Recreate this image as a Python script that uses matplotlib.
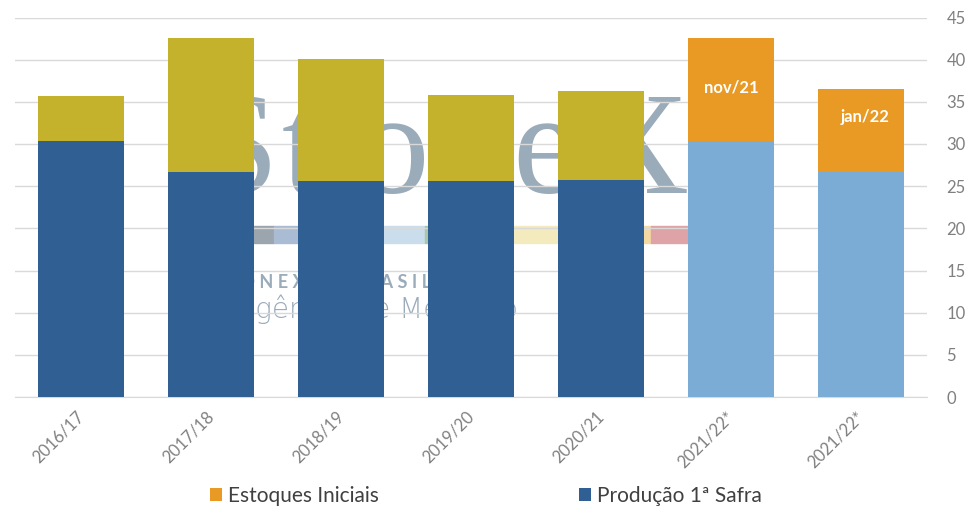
import matplotlib
matplotlib.use("Agg")
import matplotlib.pyplot as plt
from matplotlib.patches import Patch, Rectangle
from matplotlib.transforms import ScaledTranslation

# ---- data ----
categories = ["2016/17", "2017/18", "2018/19", "2019/20", "2020/21", "2021/22*", "2021/22*"]
producao = [30.4, 26.7, 25.6, 25.6, 25.7, 30.3, 26.7]
estoques = [5.3, 15.9, 14.5, 10.2, 10.6, 12.3, 9.8]
bar_notes = ["", "", "", "", "", "nov/21", "jan/22"]
y_ticks = [0, 5, 10, 15, 20, 25, 30, 35, 40, 45]

plt.rcParams['font.family'] = ['Lato', 'DejaVu Sans']

DARK_BLUE = "#2F5F93"
LIGHT_BLUE = "#7AACD5"
OLIVE = "#C4B22D"
ORANGE = "#E89A24"
projected = [False, False, False, False, False, True, True]

fig = plt.figure(figsize=(9.75, 5.27), dpi=100)
fig.patch.set_facecolor("white")
ax = fig.add_axes([15/975, 1-397/527, (927-15)/975, (397-17.5)/527])

x = list(range(len(categories)))
prod_colors = [LIGHT_BLUE if p else DARK_BLUE for p in projected]
est_colors = [ORANGE if p else OLIVE for p in projected]

ax.bar(x, producao, width=0.66, color=prod_colors, zorder=2)
ax.bar(x, estoques, width=0.66, bottom=producao, color=est_colors, zorder=2)

# labels inside the projected bars
label_offsets = {5: 0.52, 6: 0.66}
for i, note in enumerate(bar_notes):
    if note:
        ypos = producao[i] + estoques[i] * label_offsets[i]
        dx = 0.0 if i == 5 else 0.03
        ax.text(i + dx, ypos, note, ha="center", va="center", color="white",
                fontsize=12, fontweight="bold", zorder=3)

# watermark (behind bars)
wm_color = "#9AABBA"
logo_letters = "StoneX"
logo_px = [237, 302, 392, 468, 545, 636]
for ch, px in zip(logo_letters, logo_px):
    ax.text(px/975, 1-193/527, ch, transform=fig.transFigure, ha="center",
            va="baseline", fontsize=106, family=["Liberation Serif", "DejaVu Serif"],
            color=wm_color, zorder=0.2)
stripe = [(235, 274, "#9AA5AE"), (274, 330, "#A9BCD3"), (330, 425, "#C9DDEC"),
          (425, 431, "#A8C8A8"), (431, 600, "#F3EABD"), (600, 651, "#F5D9A3"),
          (651, 690, "#DDA3A7")]
for x0, x1, c in stripe:
    ax.add_patch(Rectangle((x0/975, 1-243/527), (x1-x0)/975, 17/527,
                           transform=fig.transFigure, color=c, zorder=0.2,
                           clip_on=False))
ax.text(211/975, 1-282/527, "S T O N E X          B R A S I L", transform=fig.transFigure,
        ha="left", va="center", fontsize=13, fontweight="bold", color=wm_color,
        zorder=0.2)
ax.text(186/975, 1-309/527, "Inteligência de Mercado", transform=fig.transFigure,
        ha="left", va="center", fontsize=20, fontweight="ultralight",
        family=["DejaVu Sans"], color=wm_color, zorder=0.2)

ax.set_xlim(-0.51, 6.51)
ax.set_ylim(0, 45)
ax.set_yticks(y_ticks)
ax.yaxis.tick_right()
ax.tick_params(axis="y", length=0, pad=14, labelsize=12, labelcolor="#808080")
ax.set_xticks(x)
ax.set_xticklabels(categories, rotation=45, ha="right", rotation_mode="anchor",
                   fontsize=12, color="#808080")
ax.tick_params(axis="x", length=0, pad=8)
shift = ScaledTranslation(-5/100, 0, fig.dpi_scale_trans)
for lbl in ax.get_xticklabels():
    lbl.set_transform(lbl.get_transform() + shift)
ax.grid(axis="y", color="#D9D9D9", linewidth=1)
ax.set_axisbelow(True)
for s in ["top", "right", "left"]:
    ax.spines[s].set_visible(False)
ax.spines["bottom"].set_color("#D9D9D9")
ax.spines["bottom"].set_zorder(0.5)

handles = [Patch(facecolor=ORANGE, label="Estoques Iniciais"),
           Patch(facecolor=DARK_BLUE, label="Produção 1ª Safra")]
fig.legend(handles=handles, loc="center", bbox_to_anchor=(486/975, 1-496/527),
           ncol=2, frameon=False, fontsize=15, handlelength=0.58, handleheight=0.58,
           handletextpad=0.3, columnspacing=9.6, labelcolor="#404040")

fig.savefig("out.png", dpi=100, facecolor="white")
